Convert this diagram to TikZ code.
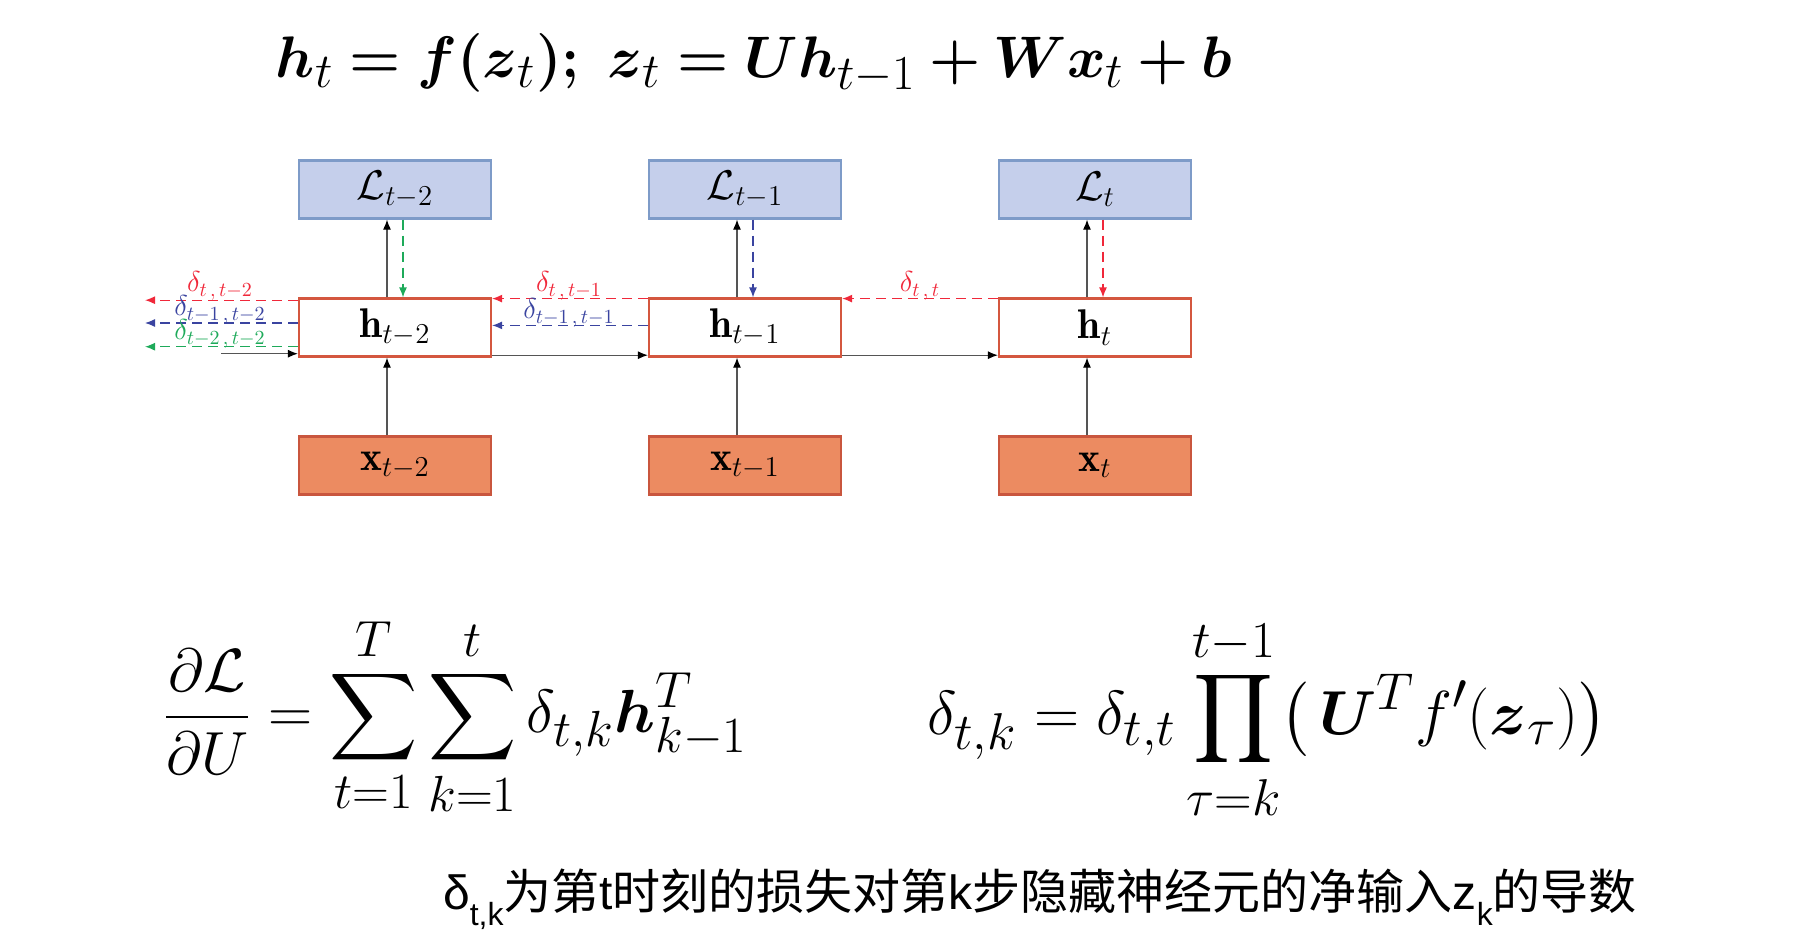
\documentclass[tikz,border=0pt]{standalone}
\usepackage{amsmath}
\usepackage{graphicx}
\usepackage{fontspec}
\newfontfamily\cjk{Noto Sans CJK SC}
\newfontfamily\latf{Liberation Sans}
\usetikzlibrary{arrows.meta}
\definecolor{lfill}{HTML}{C5CFEB}
\definecolor{ldraw}{HTML}{7E9BC8}
\definecolor{hdraw}{HTML}{D4573F}
\definecolor{xfill}{HTML}{EC8B61}
\definecolor{xdraw}{HTML}{C9563E}
\definecolor{dred}{HTML}{F0283A}
\definecolor{dblue}{HTML}{3A44A0}
\definecolor{dgreen}{HTML}{1EAA5A}
\definecolor{gline}{HTML}{555555}
\newcommand\bsy[1]{\boldsymbol{#1}}
\newcommand\myeqtop{\resizebox{478pt}{!}{$\bsy{h}_t \mathrel{\bsy{=}} \bsy{f}\bsy{(}\bsy{z}_t\bsy{)}\mathpunct{\bsy{;}}\ \bsy{z}_t \mathrel{\bsy{=}} \bsy{U}\bsy{h}_{t-1} \mathbin{\bsy{+}} \bsy{W}\bsy{x}_t \mathbin{\bsy{+}} \bsy{b}$}}
\newcommand\myeqleft{\resizebox*{292pt}{101pt}{$\displaystyle \frac{\partial\mathcal{L}}{\partial U} = \sum_{t=1}^{T}\sum_{k=1}^{t}\delta_{t,k}\bsy{h}_{k-1}^{T}$}}
\newcommand\myeqright{\resizebox*{340pt}{102pt}{$\displaystyle \delta_{t,k} = \delta_{t,t}\prod_{\tau=k}^{t-1}\bigl(\,\bsy{U}^{T}f'(\bsy{z}_{\tau})\bigr)$}}
\newcommand\mysub[1]{\raisebox{-0.35em}{\fontsize{16pt}{18pt}\selectfont #1}}
\newcommand\mycap{{\latf δ\mysub{t,k}}\cjk 为第{\latf t}时刻的损失对第{\latf k}步隐藏神经元的净输入{\latf z\mysub{k}}的导数}
\begin{document}
\begin{tikzpicture}[x=0.5pt,y=-0.5pt]
\tikzset{
  box/.style={minimum width=96pt, minimum height=29pt, inner sep=0pt, line width=1.1pt, font=\fontsize{20.74pt}{24pt}\selectfont},
  lbox/.style={box, fill=lfill, draw=ldraw},
  hbox/.style={box, fill=white, draw=hdraw},
  xbox/.style={box, fill=xfill, draw=xdraw},
  arr/.style={line width=0.6pt, draw=gline, -{Latex[length=5pt,width=4pt,color=black]}},
  dsh/.style={line width=0.6pt, dash pattern=on 5pt off 3pt, -{Latex[length=5pt,width=4pt]}},
  dl/.style={font=\fontsize{14.4pt}{17pt}\selectfont, inner sep=0pt}
}
\path[use as bounding box] (0,0) rectangle (1804,931);

% top equation
\node[anchor=base, inner sep=0pt, font=\fontsize{24.88pt}{30pt}\selectfont] (eq1) at (754,78) {\myeqtop};

% boxes
\node[lbox] (L1) at (395,189.5) {$\mathcal{L}_{t-2}$};
\node[lbox] (L2) at (745,189.5) {$\mathcal{L}_{t-1}$};
\node[lbox] (L3) at (1095,189.5) {$\mathcal{L}_{t}$};
\node[hbox] (h1) at (395,327.5) {$\mathbf{h}_{t-2}$};
\node[hbox] (h2) at (745,327.5) {$\mathbf{h}_{t-1}$};
\node[hbox] (h3) at (1095,327.5) {$\mathbf{h}_{t}$};
\node[xbox] (x1) at (395,465.5) {$\mathbf{x}_{t-2}$};
\node[xbox] (x2) at (745,465.5) {$\mathbf{x}_{t-1}$};
\node[xbox] (x3) at (1095,465.5) {$\mathbf{x}_{t}$};

% vertical arrows
\foreach \i in {1,2,3}{
  \draw[arr] ([xshift=-4pt]x\i.north) -- ([xshift=-4pt]h\i.south);
  \draw[arr] ([xshift=-4pt]h\i.north) -- ([xshift=-4pt]L\i.south);
}
\draw[dsh,dgreen] ([xshift=4pt]L1.south) -- ([xshift=4pt]h1.north);
\draw[dsh,dblue]  ([xshift=4pt]L2.south) -- ([xshift=4pt]h2.north);
\draw[dsh,dred]   ([xshift=4pt]L3.south) -- ([xshift=4pt]h3.north);

% horizontal recurrent arrows
\coordinate (s0) at (221,353.7);
\draw[arr] (s0) -- (s0 -| h1.west);
\draw[arr] ([yshift=1.2pt]h1.south east) -- ([yshift=1.2pt]h2.south west);
\draw[arr] ([yshift=1.2pt]h2.south east) -- ([yshift=1.2pt]h3.south west);

% backward dashed arrows
\coordinate (er) at (145,300.2);
\coordinate (eb) at (145,323);
\coordinate (eg) at (145,346.7);
\draw[dsh,dred]   ([yshift=-0.6pt]h3.north west) -- ([yshift=-0.6pt]h2.north east);
\draw[dsh,dred]   ([yshift=-0.6pt]h2.north west) -- ([yshift=-0.6pt]h1.north east);
\draw[dsh,dred]   (er -| h1.west) -- (er);
\draw[dsh,dblue]  ([yshift=-14pt]h2.north west) -- ([yshift=-14pt]h1.north east);
\draw[dsh,dblue]  (eb -| h1.west) -- (eb);
\draw[dsh,dgreen] (eg -| h1.west) -- (eg);

% delta labels
\node[dl,text=dred]   (d1) at (220,286) {$\delta_{t\,,\,t-2}$};
\node[dl,text=dblue]  (d2) at (220,310) {$\delta_{t-1\,,\,t-2}$};
\node[dl,text=dgreen] (d3) at (220,334) {$\delta_{t-2\,,\,t-2}$};
\node[dl,text=dred]   (d4) at (569,286) {$\delta_{t\,,\,t-1}$};
\node[dl,text=dblue]  (d5) at (569,313) {$\delta_{t-1\,,\,t-1}$};
\node[dl,text=dred]   (d6) at (920,286) {$\delta_{t\,,\,t}$};

% bottom formulas
\node[anchor=north west, inner sep=0pt, font=\fontsize{24.88pt}{30pt}\selectfont] (f1) at (163,615) {\myeqleft};
\node[anchor=north west, inner sep=0pt, font=\fontsize{24.88pt}{30pt}\selectfont] (f2) at (927,617) {\myeqright};

% caption
\node[anchor=base, inner sep=0pt, font=\fontsize{24pt}{28pt}\selectfont] (cap) at (1040,909) {\mycap};
\end{tikzpicture}
\end{document}
